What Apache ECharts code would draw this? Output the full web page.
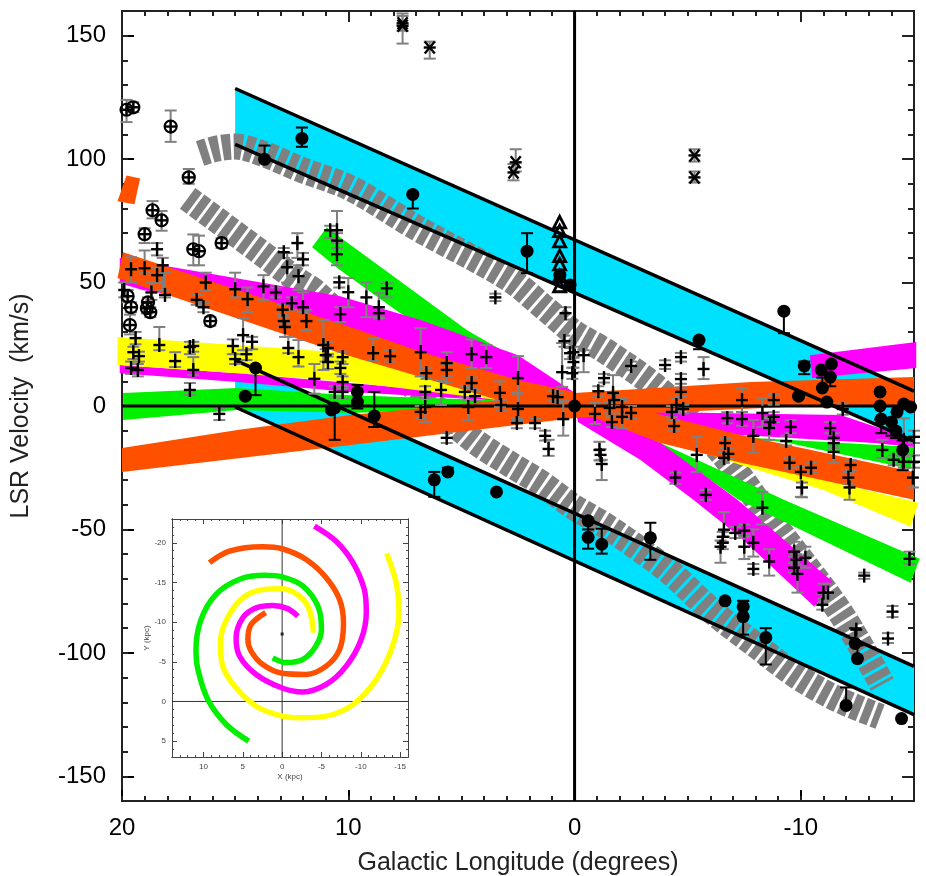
<!DOCTYPE html>
<html><head><meta charset="utf-8">
<style>html,body{margin:0;padding:0;background:#fff}#c{width:926px;height:876px}</style>
<script src="https://cdn.jsdelivr.net/npm/echarts@6/dist/echarts.min.js"></script>
</head><body><div id="c"></div>
<script>
const lonMajor=[-10,0,10,20];
const velMajor=[-150,-100,-50,0,50,100,150];
const xKpcMajor=[-15,-10,-5,0,5,10];
const yKpcMajor=[-20,-15,-10,-5,0,5];
const plusPts=[[19.6,55.4,50.1,60.3],[19,55.8,53.8,63],[18.45,63.5,61,66],[18.2,57,47,60],[18.45,53,50,56],[18.1,45,44,54],[18.7,46,43,50],[19.9,47,44,50],[16.3,50,47,54],[16.7,43,41,45],[16.4,40,38,42],[15,47.3,44,54],[14.45,43.3,38,48],[14.65,28.7,22.6,35.6],[14.25,26,23,28],[15.1,24.3,21,27],[14.5,21,18.6,22.6],[15,19,17,21],[13.75,48.5,43,53],[13.2,46,44,48],[12.85,62.3,60,64],[12.7,56.2,50,62],[12.25,66,60,70],[12,59.4,57,62],[12.2,52.6,47,57],[12.9,39,37,41],[12.85,34.4,32,36],[12.8,32,28,33.5],[12.5,41.6,39,44],[12,40,38,46],[11.85,34.4,30.7,38.8],[12.65,23.5,21.4,28],[12.2,19.8,16,26.7],[11.5,11,5,17],[11.1,24.7,14.6,34.8],[10.9,23.5,21,26],[11,20.6,18,23],[10.9,17.8,15,20],[10.25,19.8,17,22],[10.35,15.4,13,18],[10.25,9.7,7,12],[10.6,5.7,3.5,8],[10.25,5.7,3,8],[10.35,37.2,34,40],[10.4,50.1,48,52],[10.5,71.2,66,79],[10.8,71.2,68,73],[10.5,67,64,70],[10.5,61.5,57,66],[18.35,24.7,22.6,32],[19.4,27.5,25,30],[19.5,21.8,19,24],[19.25,20.2,18,22],[19.6,15.4,13,18],[19.3,14.6,12,17],[17.65,18.2,15.8,21.8],[17,23.9,21,26],[16.85,24.3,22,26],[16.85,14.6,12.5,19.8],[17,6.5,4.5,9.3],[15.7,-3.2,-5.7,-1.2],[10,46.1,40,51.8],[9.2,44,36,50],[8.65,40,36,45.7],[8.65,37.6,35.5,40],[8.3,47.7,44,49.7],[3.5,44,42.5,45.5],[8.9,21.4,18.6,27.5],[8.15,20.2,18,22.5],[6.8,21.8,12,31.5],[6.55,13.3,11,15.5],[5.65,17.4,9.3,21.8],[5.65,14.6,12,17],[4.55,21,15.4,27],[3.9,19.8,15.4,24.7],[2.5,11.3,5.3,20.2],[4.55,9.3,7,11.5],[6.6,5.7,3.5,8],[5.9,6.5,0.4,10.5],[4.85,5.7,3.5,8],[4.4,4,2,6],[3.3,5.3,-0.4,10],[3.25,0.4,-2,2.5],[2.5,-1.2,-6,5],[2.55,-6.9,-9,-5],[1.75,-6.9,-9,-5],[0.95,4,2,6],[0.75,3.6,1.5,5.5],[0.5,-5.3,-12,2],[6.8,-2.4,-5,0],[6.6,-0.4,-6.5,3.2],[4.7,-0.4,-5.7,2.4],[0.4,37.6,35,40],[0.45,26.3,24,28.5],[0.55,13.7,7.7,25.5],[0.2,21.4,19,23.5],[0.05,17.8,15.5,20],[0.1,13.3,11,15.5],[-0.4,20.6,13.7,22.6],[0.05,21.8,19.5,24],[-2.5,16.2,14.5,18],[-1.3,11.3,9.5,13],[-1.05,6,4,8],[-1.7,5.3,2,12.5],[-1.75,2.4,0,5],[-1.55,-0.8,-3,1.5],[-0.9,-3.2,-7.3,1.2],[-2.1,-0.4,-3,2],[-2.1,-4.4,-9,3.2],[-2.5,-2.8,-5,0],[-1.65,-6.5,-8.5,-4.5],[-4,16.6,15,18.5],[-4.7,19.8,18,21.5],[-4.7,10.9,9,13],[-4.7,5.7,4,7.5],[-4.5,0.4,-2,3],[-4.3,-2.4,-4.5,0],[-4.8,-1.2,-3,0.5],[-4.4,-8.1,-10,-6],[-5.7,15,10.9,19.8],[-7.4,2.4,-2.4,7.3],[-7.4,-5.3,-8,-2.5],[-6.75,-4.9,-7,-2.5],[-5.4,-19.8,-26.7,-12.5],[-6.65,-15,-17,-13],[-6.8,-19.4,-21.5,-17],[-6.6,-21,-23,-19],[-1.1,-17.8,-22,-14.5],[-1.15,-19.8,-22,-17.5],[-1.2,-23.5,-30,-21.8],[-4.45,-29,-31.5,-27],[-5.8,-36,-38,-34],[5.65,-12.9,-15,-11],[1.3,-12.1,-14,-10],[1.15,-17.4,-20.2,-13.7],[-8.8,2.4,0.5,4.5],[-8.3,-2.8,-8.5,3.2],[-7.9,-12.1,-19,-5.7],[-8.8,-4.4,-6.5,-2.5],[-8.65,-6.5,-8.5,-4.5],[-8.6,-8.9,-13.7,-4.9],[-9.35,-14.2,-16,-12],[-9.55,-8.5,-11,-5.7],[-11.85,-1.2,-3.5,1],[-11.3,-8.9,-11,-6.5],[-11.45,-12.9,-15,-11],[-11.45,-15,-17,-13],[-11.45,-18.6,-23,-16],[-9.5,-23,-25,-21],[-10,-26.7,-36.8,-24.7],[-10.45,-25,-27,-23],[-10.05,-33,-37,-31],[-12.2,-23.9,-26,-22],[-12.1,-29,-31.5,-27],[-12.15,-33,-38,-26],[-13.6,-17.8,-21,-13.7],[-14.1,-21.8,-24,-20],[-14.55,-22.6,-25,-20.5],[-14.55,-13.7,-20,-5],[-15,-12.5,-15,-10],[-15,-22.6,-25,-20],[-14.95,-29,-33,-23],[-8.3,-41.2,-48,-34.8],[-6.6,-50.1,-53,-43],[-6.55,-53,-55,-51],[-6.55,-55.4,-58,-53],[-6.45,-57,-63.5,-54.5],[-7.1,-51.4,-53.5,-49],[-7.5,-50.5,-53,-48],[-7.5,-57,-62,-52],[-7.9,-55.4,-61,-50],[-7.9,-66,-68,-64],[-8.6,-63,-68.7,-58],[-9.7,-59,-61,-55],[-9.8,-62.3,-64.5,-60],[-10.2,-61.5,-65.5,-57],[-9.7,-65.5,-67.5,-63.5],[-9.85,-68,-75.6,-65.5],[-11,-75.6,-78,-72],[-10.95,-80.5,-82.5,-76],[-11.2,-75.6,-78,-72],[-12.8,-68.7,-70,-67.5],[-14.8,-61.9,-64,-59],[-14.05,-83.3,-85.5,-81],[-13.85,-94.2,-96,-92],[-12.45,-90.6,-93,-88]];
const circlePlusPts=[[19.8,120,115,124],[19.5,121,119,123],[17.85,113.2,107,119.7],[17.05,92.6,90,96],[18.65,79.3,76,83],[18.25,75.2,71,79],[19,69.6,66,72],[16.85,63.5,57,69.5],[16.6,62.7,57,69],[15.6,66,64,68],[19.75,44.5,42,47],[19.6,40,38,42],[19.65,32.8,29,37],[18.85,42,40,44],[18.9,39.6,37.5,42],[18.75,38,36,40],[16.1,34.4,32.5,36]];
const filledPts=[[12.05,108.4,105,112.8],[13.7,99.9,99.9,105.5],[14.1,15.4,4.4,15.4],[14.55,4,4,4],[10.6,-0.8,-13.7,0],[10.75,-1.6,-1.6,-1.6],[7.15,85.7,80,85.7],[2.1,62.7,53.8,70],[9.6,5.7,5.7,8.5],[9.6,1.6,-1,1.6],[8.85,-4,-8.5,5.7],[0.65,53,53,53],[0.2,49,49,49],[-5.5,26.7,23,26.7],[-9.25,38.4,29.5,38.4],[-10.15,16.2,12.9,18],[-10.9,14.6,14.6,14.6],[-11.35,17,17,17],[-11.3,11.7,8,11.7],[-10.95,7.3,7.3,11.5],[-9.9,4,4,4],[-11.15,1.6,1.6,1.6],[-13.5,5.7,5.7,5.7],[-13.5,0,-5.5,0],[-13.55,-5.3,-11,-5.3],[-14.25,-2.4,-2.4,-2.4],[-14.55,0.8,0.8,0.8],[-14.85,-0.4,-0.4,-0.4],[-14,-6.5,-12,-6.5],[-14.2,-10.1,-13,-10.1],[-14.5,-17.8,-26,-14],[6.2,-29.9,-36.8,-26.7],[5.6,-26.7,-26.7,-25],[3.45,-34.8,-34.8,-34.8],[-0.6,-46.5,-50,-46.5],[-0.6,-53.2,-57.8,-46],[-1.2,-56,-59.8,-49.7],[-3.35,-53.4,-62.3,-47.3],[-6.65,-78.9,-78.9,-78.9],[-7.45,-81.3,-81.3,-78.9],[-7.45,-85.3,-92.6,-79],[-8.45,-93.8,-104.7,-90],[-12,-121.3,-121.3,-114],[-12.4,-96.2,-96.2,-90],[-12.5,-102.3,-102.3,-97],[-14.45,-126.6,-126.6,-126.6],[0,0,0,0]];
const asteriskPts=[[7.6,154,146.8,159],[7.6,155,152,158],[6.4,145.2,140.7,147.6],[2.6,98.7,95,104],[2.7,94.6,91.4,98],[-5.3,101.5,99,104],[-5.3,92.6,90.5,95]];
const trianglePts=[[0.66,74,74,74],[0.66,70.4,70.4,70.4],[0.66,66.3,66.3,66.3],[0.66,60.3,60.3,60.3],[0.66,57,57,57],[0.66,52.2,52.2,52.2],[0.66,48.1,48.1,48.1]];
const cyanUpper=[[15,128.6],[-15,6],[-15,-14.2],[15,106]];
const cyanLower=[[15,18.6],[-15,-105.5],[-15,-125],[15,-0.4]];
const yellowLeft=[[20.2,27.9],[14.9,24.7],[9.9,21.4],[3.4,4.4],[3.4,2.4],[9.9,9.7],[14.9,13.3],[20.2,16.6]];
const yellowRight=[[0,1.2],[-7.35,-21.8],[-15.2,-39.2],[-14.85,-48.9],[-11,-34],[-7.35,-23.9],[0,-1.6]];
const greenLeft=[[19.95,5.3],[14.9,7.3],[9.9,4.4],[0,1.2],[0,0.4],[9.9,-2.8],[14.9,-1.6],[19.95,-5.7]];
const greenUpper=[[10.95,72.4],[10.35,68.3],[4.75,30.7],[2.7,19.8],[0.05,5.3],[0.05,2.4],[7.7,37.6],[10.35,55],[11.6,64.3]];
const greenRight=[[0,1.2],[-3.8,-15],[-9.25,-38],[-15.25,-61.9],[-14.85,-71.6],[-7.25,-38],[-3.8,-15.8]];
const greenStrip=[[-5.6,-11.7],[-15,-16.6],[-14.85,-25.5],[-9.25,-14.6]];
const magentaLeft=[[20.1,16.6],[14.9,13.3],[9.9,9.3],[0,1.2],[0,0.4],[9.9,5.7],[14.9,9.7],[20.1,13.3]];
const magentaUpper=[[20.1,59.9],[10.35,44.5],[6.8,34.8],[2.5,20.6],[0.05,5.7],[0,0.4],[10.35,26.7],[16.4,43],[19.05,46.9],[20.1,49.7]];
const magentaDiag=[[0,1.2],[-3.8,-15],[-7.2,-38],[-11.4,-71.2],[-10.6,-81.3],[-7.35,-53.4],[-5.25,-38],[-2.9,-21.8],[-0.15,-6.5]];
const magentaMid=[[-3.5,-2.4],[-11.75,-3.6],[-15,-13.7],[-15,-16.6],[-13.25,-15],[-7.35,-11.7],[-3.8,-9.7]];
const magentaTop=[[-10.4,20.6],[-15.1,25.9],[-15.1,15.4],[-10.5,11.3]];
const orangeUpper=[[19.95,62.3],[9.9,32],[6.8,22],[2.5,10.5],[0,5.7],[0,-3.6],[3.4,2.4],[6.8,11.7],[10.35,21.4],[20.2,51.8]];
const orangeCross=[[20,-17],[14.9,-9.7],[9.9,-3.6],[0,5.3],[-7.8,9.7],[-15,11.7],[-15,0.4],[-10.3,0],[-3.5,-2.8],[0,-4.9],[9.9,-15.8],[20,-26.7]];
const orangeRight=[[0,2.4],[-3.5,-2.8],[-7.35,-11.7],[-15,-26.7],[-15,-38],[-7.35,-23],[-3.8,-15],[0,-1.6]];
const orangeStub=[[19.8,93.4],[19.2,92.2],[19.45,81.7],[20.2,82.9]];
const greyUpper=[[16.55,102.3],[15.8,104.3],[15,105.1],[13.8,102.3],[12.1,95.8],[9.9,88.2],[6.95,72],[2.95,51.8],[1.2,38.8],[0.05,29.9],[-1.3,22.6],[-3.5,8.5],[-5.15,-5.7],[-6.75,-21.8],[-9,-50.1],[-11.75,-83.7],[-13.6,-112.8]];
const greyLower=[[17.1,84.1],[14,63.1],[12.25,51],[11.45,46.1],[8.15,16.6],[4.6,-12.9],[2.95,-23],[1.5,-31.1],[0.05,-40.8],[-1.3,-48.1],[-2.9,-58.2],[-4.25,-67.5],[-6.15,-83.7],[-8.1,-97.5],[-9.85,-109.6],[-11.65,-118.9],[-13.5,-125.8]];
const armOrange=[[9.24,-17.5],[6.7,-18.95],[2.46,-19.5],[0,-19.25],[-3.05,-17.9],[-5.6,-15.6],[-7.3,-12.85],[-7.8,-9.9],[-7.3,-6.55],[-5.6,-4.45],[-3.05,-3.4],[0,-3.55],[2.46,-4.65],[3.95,-6.35],[4.35,-7.8],[3.95,-9.7],[2.1,-11.2]];
const armMagenta=[[-4.1,-22.1],[-6.85,-20.2],[-9,-17.5],[-10.45,-14.1],[-10.7,-11.2],[-10.05,-7.8],[-8.15,-4.45],[-5.6,-2.15],[-2.6,-1.2],[0,-1.7],[3.3,-3.4],[5.4,-5.7],[5.85,-8],[5,-10.55],[3.3,-11.8],[1.2,-12.1],[-0.7,-11.7],[-2,-10.75]];
const armYellow=[[-13.3,-18.65],[-14.5,-14.95],[-14.85,-11.2],[-14.05,-7],[-11.95,-2.75],[-9,0.4],[-5.6,1.85],[-2.2,2.05],[0,1.85],[3.3,0.6],[6.05,-1.95],[7.55,-4.45],[7.85,-7.4],[7.05,-10.35],[5,-13.05],[2.45,-14.1],[0,-14.2],[-2.2,-13.3],[-3.45,-11.6],[-4,-8.65]];
const armGreen=[[4.25,5],[7.1,2.9],[9.45,-0.25],[10.7,-4],[10.95,-6.55],[10.3,-10.35],[8.4,-13.5],[5.4,-15.4],[2.25,-15.9],[0,-15.7],[-2.65,-14.55],[-4.55,-12],[-5,-9.1],[-4.3,-7],[-2.65,-5.3],[-0.5,-4.9],[1.2,-5.5]];
const galacticCentre=[[0,-8.5]];

const COL={cyan:'#00e0ff',grey:'#808080',yellow:'#ffff00',green:'#00f000',magenta:'#ff00ff',orange:'#ff5000'};
function range(a,b,s){const r=[];for(let v=a;v<=b;v+=s)r.push(v);return r;}
const font='"Liberation Sans", Arial, sans-serif';
const axisColor='#222';
function xAxisOf(grid,min,max,pos,vals,len,label,lw,fs,col){
  return {type:'value',gridIndex:grid,position:pos,inverse:true,min,max,
    axisLine:{show:true,onZero:false,lineStyle:{color:col,width:lw}},
    splitLine:{show:false},
    axisTick:{show:true,inside:true,length:len,customValues:vals,lineStyle:{color:col,width:lw}},
    axisLabel:{show:label,customValues:vals,color:col,fontFamily:font,fontSize:fs,margin:grid===0?15:6}};
}
function yAxisOf(grid,min,max,inv,pos,vals,len,label,lw,fs,col){
  return {type:'value',gridIndex:grid,position:pos,inverse:inv,min,max,
    axisLine:{show:true,onZero:false,lineStyle:{color:col,width:lw}},
    splitLine:{show:false},
    axisTick:{show:true,inside:true,length:len,customValues:vals,lineStyle:{color:col,width:lw}},
    axisLabel:{show:label,customValues:vals,color:col,fontFamily:font,fontSize:fs,margin:grid===0?16:6}};
}
const xAxes=[
  xAxisOf(0,-15,20,'bottom',lonMajor,11,true,2,24,'#000'),
  xAxisOf(0,-15,20,'top',lonMajor,11,false,2,24,axisColor),
  xAxisOf(0,-15,20,'bottom',range(-15,20,1),5,false,2,24,axisColor),
  xAxisOf(0,-15,20,'top',range(-15,20,1),5,false,2,24,axisColor),
  xAxisOf(1,-16,14,'bottom',xKpcMajor,5,true,1,8,'#444'),
  xAxisOf(1,-16,14,'top',xKpcMajor,5,false,1,8,'#444'),
  xAxisOf(1,-16,14,'bottom',range(-16,14,1),2,false,1,8,'#444'),
  xAxisOf(1,-16,14,'top',range(-16,14,1),2,false,1,8,'#444')
];
const yAxes=[
  yAxisOf(0,-160,160,false,'left',velMajor,12,true,2,24,'#000'),
  yAxisOf(0,-160,160,false,'right',velMajor,12,false,2,24,axisColor),
  yAxisOf(0,-160,160,false,'left',range(-160,160,10),6,false,2,24,axisColor),
  yAxisOf(0,-160,160,false,'right',range(-160,160,10),6,false,2,24,axisColor),
  yAxisOf(1,-23,7,true,'left',yKpcMajor,5,true,1,8,'#444'),
  yAxisOf(1,-23,7,true,'right',yKpcMajor,5,false,1,8,'#444'),
  yAxisOf(1,-23,7,true,'left',range(-23,7,1),2,false,1,8,'#444'),
  yAxisOf(1,-23,7,true,'right',range(-23,7,1),2,false,1,8,'#444')
];
xAxes[0].name='Galactic Longitude (degrees)';xAxes[0].nameLocation='middle';xAxes[0].nameGap=50;
xAxes[0].nameTextStyle={fontFamily:font,fontSize:25,color:'#222'};
yAxes[0].name='LSR Velocity  (km/s)';yAxes[0].nameLocation='middle';yAxes[0].nameGap=88;
yAxes[0].nameTextStyle={fontFamily:font,fontSize:25,color:'#222'};
xAxes[4].name='X (kpc)';xAxes[4].nameLocation='middle';xAxes[4].nameGap=16;
xAxes[4].nameTextStyle={fontFamily:font,fontSize:8,color:'#444'};
yAxes[4].name='Y (kpc)';yAxes[4].nameLocation='middle';yAxes[4].nameGap=20;
yAxes[4].nameTextStyle={fontFamily:font,fontSize:8,color:'#444'};
function band(data,color,z){
  return {type:'custom',xAxisIndex:0,yAxisIndex:0,z,silent:true,data,
    renderItem(p,api){
      if(p.dataIndex!==0) return null;
      return {type:'polygon',shape:{points:data.map(d=>api.coord(d))},style:{fill:color}};
    }};
}
function greyArc(data,z){
  return {type:'line',xAxisIndex:0,yAxisIndex:0,z,silent:true,data,smooth:0.33,showSymbol:false,clip:false,
    lineStyle:{color:COL.grey,width:26,type:[8.5,3],cap:'butt'}};
}
function blackLine(data,w,z){
  return {type:'line',xAxisIndex:0,yAxisIndex:0,z,silent:true,data,showSymbol:false,clip:false,
    lineStyle:{color:'#000',width:w,cap:'butt'}};
}
function errBars(data,color,z){
  return {type:'custom',xAxisIndex:0,yAxisIndex:0,z,silent:true,data,encode:{x:0,y:1},
    renderItem(p,api){
      const lon=api.value(0),lo=api.value(2),hi=api.value(3);
      if(lo===hi) return null;
      const a=api.coord([lon,lo]),b=api.coord([lon,hi]);
      const s={stroke:color,lineWidth:2,fill:null};
      return {type:'group',children:[
        {type:'line',shape:{x1:a[0],y1:a[1],x2:b[0],y2:b[1]},style:s},
        {type:'line',shape:{x1:a[0]-6,y1:a[1],x2:a[0]+6,y2:a[1]},style:s},
        {type:'line',shape:{x1:b[0]-6,y1:b[1],x2:b[0]+6,y2:b[1]},style:s}]};
    }};
}
const L=(x1,y1,x2,y2)=>({type:'line',shape:{x1,y1,x2,y2},style:{stroke:'#000',lineWidth:2.4,fill:null}});
const drawers={
  plus:c=>[L(c[0]-6,c[1],c[0]+6,c[1]),L(c[0],c[1]-7,c[0],c[1]+7)],
  circlePlus:c=>[{type:'circle',shape:{cx:c[0],cy:c[1],r:6},style:{fill:null,stroke:'#000',lineWidth:2.2}},
    L(c[0]-6,c[1],c[0]+6,c[1]),L(c[0],c[1]-6,c[0],c[1]+6)],
  filled:c=>[{type:'circle',shape:{cx:c[0],cy:c[1],r:6.5},style:{fill:'#000'}}],
  asterisk:c=>[L(c[0]-6,c[1],c[0]+6,c[1]),L(c[0]-5,c[1]-6,c[0]+5,c[1]+6),L(c[0]-5,c[1]+6,c[0]+5,c[1]-6)],
  triangle:c=>[{type:'polygon',shape:{points:[[c[0],c[1]-7],[c[0]-6,c[1]+4.5],[c[0]+6,c[1]+4.5]]},style:{fill:null,stroke:'#000',lineWidth:2.8}}]
};
function marks(data,kind,z){
  return {type:'custom',xAxisIndex:0,yAxisIndex:0,z,silent:true,data,encode:{x:0,y:1},
    renderItem(p,api){
      const c=api.coord([api.value(0),api.value(1)]);
      return {type:'group',children:drawers[kind](c)};
    }};
}
function arm(data,color){
  return {type:'line',xAxisIndex:4,yAxisIndex:4,z:6,silent:true,data,smooth:0.33,showSymbol:false,clip:false,
    lineStyle:{color,width:5.5,cap:'butt'}};
}
const series=[
  band(cyanUpper,COL.cyan,2),band(cyanLower,COL.cyan,2),
  greyArc(greyUpper,3),greyArc(greyLower,3),
  band(greenRight,COL.green,4),band(greenStrip,COL.green,4),band(greenUpper,COL.green,4),band(greenLeft,COL.green,4),
  band(magentaLeft,COL.magenta,5),band(magentaUpper,COL.magenta,5),band(magentaDiag,COL.magenta,5),band(magentaMid,COL.magenta,5),band(magentaTop,COL.magenta,5),
  band(yellowRight,COL.yellow,6),band(yellowLeft,COL.yellow,6),
  band(orangeCross,COL.orange,7),band(orangeRight,COL.orange,7),band(orangeUpper,COL.orange,7),band(orangeStub,COL.orange,7),
  blackLine([[15,128.6],[-15,6]],3.5,8),blackLine([[15,106],[-15,-14.2]],3.5,8),
  blackLine([[15,18.6],[-15,-105.5]],3.5,8),blackLine([[15,-0.4],[-15,-125]],3.5,8),
  blackLine([[0,-160],[0,160]],3,8),blackLine([[-15,0],[20,0]],3,8),
  errBars(plusPts,COL.grey,9),errBars(circlePlusPts,COL.grey,9),errBars(asteriskPts,COL.grey,9),
  errBars(filledPts,'#000',10),
  marks(plusPts,'plus',11),marks(circlePlusPts,'circlePlus',11),marks(filledPts,'filled',11),
  marks(asteriskPts,'asterisk',11),marks(trianglePts,'triangle',11),
  {type:'line',xAxisIndex:4,yAxisIndex:4,z:5,silent:true,data:[[0,-23],[0,7]],showSymbol:false,lineStyle:{color:'#333',width:1}},
  {type:'line',xAxisIndex:4,yAxisIndex:4,z:5,silent:true,data:[[-16,0],[14,0]],showSymbol:false,lineStyle:{color:'#333',width:1}},
  arm(armOrange,COL.orange),arm(armMagenta,COL.magenta),arm(armYellow,COL.yellow),arm(armGreen,COL.green),
  {type:'scatter',xAxisIndex:4,yAxisIndex:4,z:7,silent:true,data:galacticCentre,symbol:'rect',symbolSize:3,itemStyle:{color:'#000'}}
];
const chart=echarts.init(document.getElementById('c'),null,{renderer:'canvas'});
chart.setOption({
  animation:false,backgroundColor:'#fff',
  grid:[{left:122,top:11,width:792,height:790,outerBoundsMode:'none'},{left:172,top:519,width:236,height:238,outerBoundsMode:'none'}],
  xAxis:xAxes,yAxis:yAxes,series
});
</script></body></html>
